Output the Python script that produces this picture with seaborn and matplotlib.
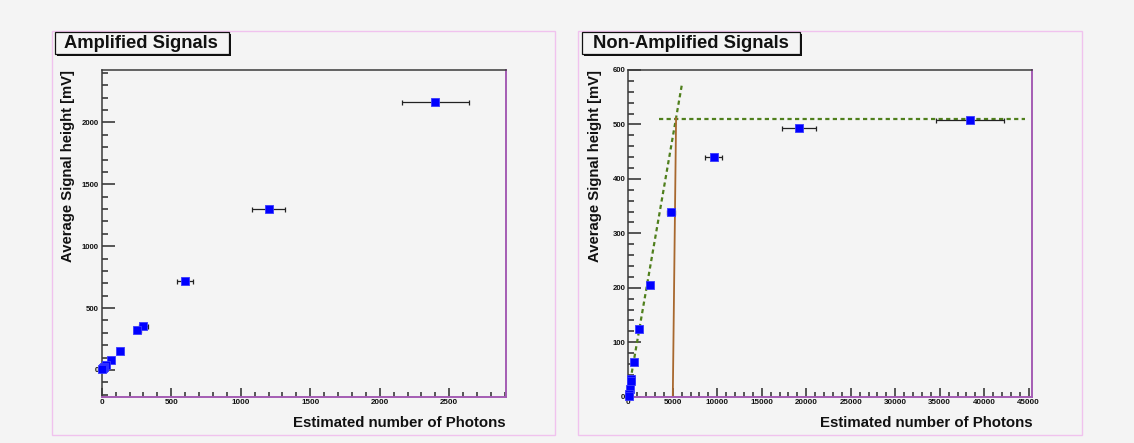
import matplotlib
matplotlib.use("Agg")
import matplotlib.pyplot as plt
import seaborn as sns
import pandas as pd
from matplotlib.patches import Rectangle
from matplotlib.ticker import MultipleLocator

# ---------------- data ----------------
amp_photons = [2400, 1200, 600, 300, 256, 130, 65, 32, 16, 8, 4]
amp_signal = [2167, 1303, 718, 355, 323, 156, 81, 40, 22, 12, 6]
amp_xerr = [240, 120, 60, 30, 26, 13, 6.5, 3.2, 1.6, 0.8, 0.4]
amp_yerr = [18, 14, 8, 5, 5, 3, 2, 1, 1, 1, 1]

non_photons = [38400, 19200, 9600, 4800, 2400, 1200, 600, 300, 256, 150, 75, 37]
non_signal = [509, 493, 441, 339, 206, 125, 63, 33, 29, 15, 5, 2]
non_xerr = [3840, 1920, 960, 480, 240, 120, 60, 30, 26, 15, 7.5, 3.7]
non_yerr = [2, 2, 2, 2, 1, 1, 1, 1, 1, 1, 1, 1]

lin_fit_x = [-50, 6050]
lin_fit_y = [3, 576]
sat_fit_x = [3400, 44600]
sat_fit_y = [510, 510]
cross_x = [5000, 5370]
cross_y = [0, 512]

titles = ["Amplified Signals", "Non-Amplified Signals"]
xlabel = "Estimated number of Photons"
ylabel = "Average Signal height [mV]"

# ---------------- style ----------------
sns.set_style("white")
plt.rcParams["font.family"] = ["Liberation Sans", "DejaVu Sans"]
BG = "#f4f4f4"
W, H = 1134, 443
fig = plt.figure(figsize=(W / 100, H / 100), dpi=100, facecolor=BG)


def fx(px):
    return px / W


def fy(py):
    return 1 - py / H


def panel(px0, px1, ax_x0, ax_x1, title, tx0, tx1, ttext):
    # pink pad border
    fig.add_artist(Rectangle((fx(px0), fy(435)), fx(px1) - fx(px0), fy(31) - fy(435),
                             transform=fig.transFigure, fill=False,
                             edgecolor="#f0c2ee", lw=1.0, zorder=0))
    # title box with shadow
    fig.add_artist(Rectangle((fx(tx0 + 2), fy(56.3)), fx(tx1) - fx(tx0), fy(31.7) - fy(54.3),
                             transform=fig.transFigure, facecolor="#111111",
                             edgecolor="none", zorder=5))
    fig.add_artist(Rectangle((fx(tx0), fy(54.3)), fx(tx1) - fx(tx0), fy(31.7) - fy(54.3),
                             transform=fig.transFigure, facecolor=BG,
                             edgecolor="#111111", lw=0.9, zorder=6))
    fig.text(fx(ttext), fy(43.5), title, ha="left", va="center", fontsize=13.2,
             fontweight="bold", color="#111111", zorder=7)
    ax = fig.add_axes([fx(ax_x0), fy(396.7), fx(ax_x1) - fx(ax_x0), fy(70) - fy(396.7)])
    ax.set_facecolor(BG)
    for s in ["top", "left"]:
        ax.spines[s].set_color("#3a3a3a")
        ax.spines[s].set_linewidth(1.1)
    for s in ["right", "bottom"]:
        ax.spines[s].set_color("#a45cb4")
        ax.spines[s].set_linewidth(1.4)
    ax.tick_params(which="both", direction="in", top=False, right=False,
                   bottom=True, left=True, color="#3a3a3a", labelcolor="#111111",
                   width=1.2)
    ax.tick_params(axis="y", which="major", length=9.1, pad=2.2, labelsize=5.6)
    ax.tick_params(axis="y", which="minor", length=4.5)
    ax.tick_params(axis="x", which="major", length=6.7, pad=1.8, labelsize=5.8)
    ax.tick_params(axis="x", which="minor", length=3.8)
    fig.text(fx(ax_x1), fy(423), xlabel, ha="right", va="center", fontsize=10.8,
             fontweight="bold", color="#111111")
    fig.text(fx(ax_x0 - 33.5), fy(70), ylabel, ha="center", va="top", rotation=90,
             fontsize=10.7, fontweight="bold", color="#111111")
    return ax


def draw_points(ax, xs, ys, xe, ye):
    ax.errorbar(xs, ys, xerr=xe, yerr=ye, fmt="none", ecolor="#222222",
                elinewidth=0.9, capsize=1.8, capthick=0.9, zorder=3, clip_on=False)
    df = pd.DataFrame({"x": xs, "y": ys})
    sns.scatterplot(data=df, x="x", y="y", ax=ax, marker="s", s=36, color="#0000ff",
                    edgecolor="#3a3aff", linewidth=0.6, zorder=4, clip_on=False)


# ---------------- left panel ----------------
ax1 = panel(52.3, 554.7, 101.7, 505.6, titles[0], 55, 229, 64.3)
draw_points(ax1, amp_photons, amp_signal, amp_xerr, amp_yerr)
ax1.set_xlim(0, 2905)
ax1.set_ylim(-216, 2423)
ax1.xaxis.set_major_locator(MultipleLocator(500))
ax1.xaxis.set_minor_locator(MultipleLocator(100))
ax1.yaxis.set_major_locator(MultipleLocator(500))
ax1.yaxis.set_minor_locator(MultipleLocator(100))

# ---------------- right panel ----------------
ax2 = panel(578, 1081.7, 628.3, 1032.3, titles[1], 582.3, 800, 592.7)
green = "#4f7f1c"
sns.lineplot(x=lin_fit_x, y=lin_fit_y, ax=ax2, color=green, linewidth=1.6,
             linestyle=(0, (1.9, 1.5)), zorder=2)
sns.lineplot(x=sat_fit_x, y=sat_fit_y, ax=ax2, color=green, linewidth=1.6,
             linestyle=(0, (1.9, 1.5)), zorder=2)
sns.lineplot(x=cross_x, y=cross_y, ax=ax2, color="#a8682e", linewidth=1.3, zorder=2)
draw_points(ax2, non_photons, non_signal, non_xerr, non_yerr)
ax2.set_xlim(0, 45400)
ax2.set_ylim(0, 600)
ax2.xaxis.set_major_locator(MultipleLocator(5000))
ax2.xaxis.set_minor_locator(MultipleLocator(1000))
ax2.yaxis.set_major_locator(MultipleLocator(100))
ax2.yaxis.set_minor_locator(MultipleLocator(20))

for ax in (ax1, ax2):
    ax.set_xlabel("")
    ax.set_ylabel("")
    for lab in ax.get_xticklabels() + ax.get_yticklabels():
        lab.set_fontweight("bold")

fig.savefig("out.png", dpi=100, facecolor=BG)
